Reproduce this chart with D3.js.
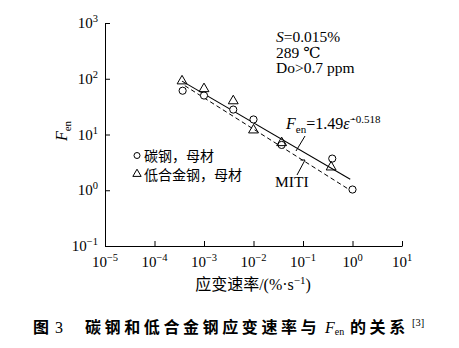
<!DOCTYPE html>
<html><head><meta charset="utf-8">
<script src="https://cdn.jsdelivr.net/npm/d3@7"></script>
<style>
html,body{margin:0;padding:0;background:#fff;}
svg{display:block;}
.serif{font-family:"Liberation Serif","DejaVu Serif",serif;}
.cjk{font-family:"Noto Sans CJK SC","Noto Sans",sans-serif;}
</style></head>
<body>
<svg id="c" width="459" height="348"></svg>
<script>
// ---- data ----
const xTickExps = [-5,-4,-3,-2,-1,0,1];
const yTickExps = [-1,0,1,2,3];
const carbonX = [3.7e-4, 1.0e-3, 3.9e-3, 1.0e-2, 3.7e-2, 0.39, 1.0];
const carbonY = [61, 50, 28, 18.6, 6.5, 3.7, 1.03];
const alloyX = [3.6e-4, 1.0e-3, 3.9e-3, 1.0e-2, 3.7e-2, 0.37];
const alloyY = [91, 66, 40, 12, 7.1, 2.6];
const fitX = [3.6e-4, 0.9];
const fitY = [90.6, 1.57];
const mitiX = [4.1e-4, 0.9];
const mitiY = [75, 1.0];
const legendLabels = ["碳钢，母材", "低合金钢，母材"];
const conditions = ["=0.015%", "289 ℃", "Do>0.7 ppm"];

const svg = d3.select("#c");
const x = d3.scaleLog().domain([1e-5, 1e1]).range([105, 402]);
const y = d3.scaleLog().domain([1e-1, 1e3]).range([246, 23]);

// axes
const xAxis = d3.axisBottom(x).tickValues(xTickExps.map(e => Math.pow(10, e)))
  .tickSize(-5).tickSizeOuter(0).tickFormat("");
const yAxis = d3.axisLeft(y).tickValues(yTickExps.map(e => Math.pow(10, e)))
  .tickSize(-5).tickSizeOuter(0).tickFormat("");
const gx = svg.append("g").attr("transform", "translate(0,246)").call(xAxis);
const gy = svg.append("g").attr("transform", "translate(105,0)").call(yAxis);
[gx, gy].forEach(g => {
  g.selectAll("path,line").attr("stroke", "#000").attr("stroke-width", 1);
});

// x tick labels
xTickExps.forEach(e => {
  const t = svg.append("text").attr("class", "serif").attr("x", x(Math.pow(10, e)))
    .attr("y", 267).attr("text-anchor", "middle").attr("font-size", 15).attr("fill", "#000");
  t.append("tspan").text("10");
  t.append("tspan").attr("dy", -6).attr("font-size", 10.5).text(e < 0 ? "−" + (-e) : String(e));
});
// y tick labels
yTickExps.forEach(e => {
  const t = svg.append("text").attr("class", "serif").attr("x", 98)
    .attr("y", y(Math.pow(10, e)) + 5).attr("text-anchor", "end").attr("font-size", 15).attr("fill", "#000");
  t.append("tspan").text("10");
  t.append("tspan").attr("dy", -6).attr("font-size", 10.5).text(e < 0 ? "−" + (-e) : String(e));
});

// axis titles
const xl = svg.append("text").attr("x", 253).attr("y", 290).attr("text-anchor", "middle")
  .attr("font-size", 16).attr("fill", "#000");
xl.append("tspan").attr("class", "cjk").text("应变速率");
xl.append("tspan").attr("class", "serif").text("/(%·s");
xl.append("tspan").attr("class", "serif").attr("dy", -6).attr("font-size", 11).text("−1");
xl.append("tspan").attr("class", "serif").attr("dy", 6).text(")");

const yl = svg.append("text").attr("class", "serif").attr("transform", "translate(67,131) rotate(-90)")
  .attr("text-anchor", "middle").attr("font-size", 16).attr("fill", "#000");
yl.append("tspan").attr("font-style", "italic").text("F");
yl.append("tspan").attr("dy", 4).attr("font-size", 11).text("en");

// lines
const line = d3.line().x(d => x(d[0])).y(d => y(d[1]));
svg.append("path").attr("d", line(d3.zip(fitX, fitY))).attr("fill", "none")
  .attr("stroke", "#000").attr("stroke-width", 1.1);
svg.append("path").attr("d", line(d3.zip(mitiX, mitiY))).attr("fill", "none")
  .attr("stroke", "#000").attr("stroke-width", 1).attr("stroke-dasharray", "4.5,3");

// markers
const tri = d3.symbol(d3.symbolTriangle).size(42);
svg.append("g").selectAll("circle").data(d3.zip(carbonX, carbonY)).join("circle")
  .attr("cx", d => x(d[0])).attr("cy", d => y(d[1])).attr("r", 3.6)
  .attr("fill", "#fff").attr("stroke", "#000").attr("stroke-width", 1);
svg.append("g").selectAll("path").data(d3.zip(alloyX, alloyY)).join("path")
  .attr("d", tri).attr("transform", d => `translate(${x(d[0])},${y(d[1])})`)
  .attr("fill", "none").attr("stroke", "#000").attr("stroke-width", 1);

// leaders
svg.append("path").attr("d", "M305,136L296,151").attr("stroke", "#000").attr("fill", "none");
svg.append("path").attr("d", "M300.5,160H305L297,175").attr("stroke", "#000").attr("fill", "none");

// equation label
const eq = svg.append("text").attr("class", "serif").attr("x", 286).attr("y", 129)
  .attr("font-size", 16).attr("fill", "#000");
eq.append("tspan").attr("font-style", "italic").text("F");
eq.append("tspan").attr("dy", 4).attr("font-size", 11).text("en");
eq.append("tspan").attr("dy", -4).text("=1.49");
eq.append("tspan").attr("font-style", "italic").text("ε\u0307");
eq.append("tspan").attr("dy", -6).attr("font-size", 11).text("−0.518");

svg.append("text").attr("class", "serif").attr("x", 275).attr("y", 187)
  .attr("font-size", 15.5).attr("fill", "#000").text("MITI");

// conditions
const c1 = svg.append("text").attr("class", "serif").attr("x", 276).attr("y", 42)
  .attr("font-size", 15.5).attr("fill", "#000");
c1.append("tspan").attr("font-style", "italic").text("S");
c1.append("tspan").text(conditions[0]);
svg.append("text").attr("class", "serif").attr("x", 276).attr("y", 57.5)
  .attr("font-size", 15.5).attr("fill", "#000").text(conditions[1]);
svg.append("text").attr("class", "serif").attr("x", 276).attr("y", 73)
  .attr("font-size", 15.5).attr("fill", "#000").text(conditions[2]);

// legend
svg.append("circle").attr("cx", 137).attr("cy", 155.5).attr("r", 3)
  .attr("fill", "#fff").attr("stroke", "#000");
svg.append("path").attr("d", d3.symbol(d3.symbolTriangle).size(30)())
  .attr("transform", "translate(137,174)").attr("fill", "none").attr("stroke", "#000");
svg.append("text").attr("class", "cjk").attr("x", 144).attr("y", 160.5)
  .attr("font-size", 14).attr("fill", "#000").text(legendLabels[0]);
svg.append("text").attr("class", "cjk").attr("x", 144).attr("y", 179.5)
  .attr("font-size", 14).attr("fill", "#000").text(legendLabels[1]);

// caption
const cap = svg.append("g").attr("fill", "#000");
cap.append("text").attr("class", "cjk").attr("x", 33).attr("y", 333).attr("font-size", 16)
  .attr("font-weight", 700).text("图");
cap.append("text").attr("class", "serif").attr("x", 55).attr("y", 333).attr("font-size", 16).text("3");
cap.append("text").attr("class", "cjk").attr("x", 85).attr("y", 333).attr("font-size", 16)
  .attr("font-weight", 700).attr("letter-spacing", 3.6).text("碳钢和低合金钢应变速率与");
const capF = cap.append("text").attr("class", "serif").attr("x", 325).attr("y", 333).attr("font-size", 16);
capF.append("tspan").attr("font-style", "italic").text("F");
capF.append("tspan").attr("dy", 2).attr("font-size", 10).text("en");
cap.append("text").attr("class", "cjk").attr("x", 350).attr("y", 333).attr("font-size", 16)
  .attr("font-weight", 700).attr("letter-spacing", 3.6).text("的关系");
cap.append("text").attr("class", "serif").attr("x", 412).attr("y", 326).attr("font-size", 10.5).text("[3]");
</script>
</body></html>
